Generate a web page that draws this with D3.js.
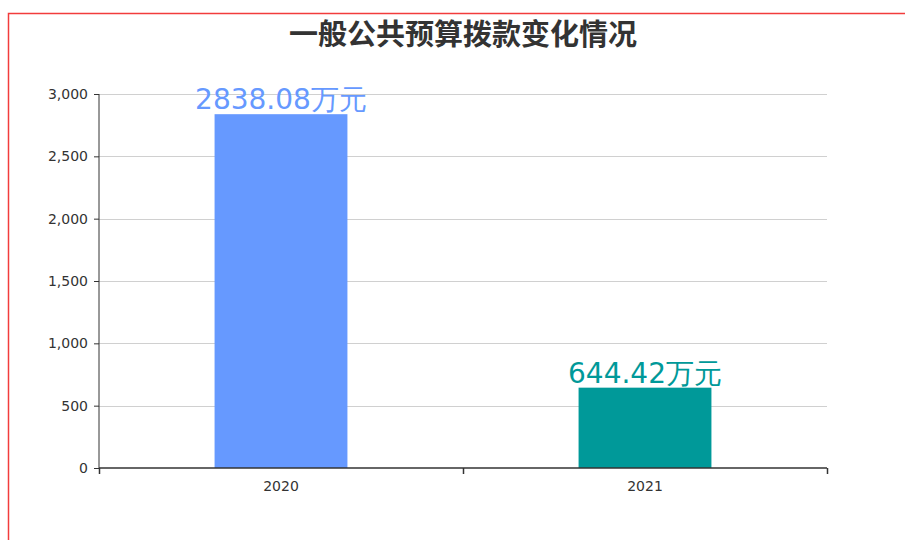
<!DOCTYPE html>
<html><head><meta charset="utf-8">
<script src="https://cdn.jsdelivr.net/npm/d3@7"></script>
<style>html,body{margin:0;padding:0;background:#fff;overflow:hidden}</style>
</head><body>
<svg id="c" width="905" height="540"></svg>
<script>
const title = "一般公共预算拨款变化情况";
const categories = ["2020", "2021"];
const values = [2838.08, 644.42];
const colors = ["#6699FF", "#009999"];
const unit = "万元";
const yTicks = [0, 500, 1000, 1500, 2000, 2500, 3000];

const svg = d3.select("#c");
// frame border
svg.append("path").attr("d","M8.5,540 L8.5,13.5 L905,13.5").attr("fill","none").attr("stroke","#f23c3c").attr("stroke-width",1.5);

const m = {left:99, right:827, top:94, bottom:468};
const x = d3.scaleBand().domain(categories).range([m.left, m.right]).padding(0);
const y = d3.scaleLinear().domain([0,3000]).range([m.bottom, m.top]);

svg.append("text").attr("x",463).attr("y",45).attr("text-anchor","middle")
  .attr("font-family","'Noto Sans CJK SC'").attr("font-weight","bold").attr("font-size",29)
  .attr("fill","#333").text(title);

// grid
svg.append("g").selectAll("line").data(yTicks.filter(d=>d>0)).join("line")
  .attr("x1",m.left).attr("x2",m.right).attr("y1",d=>Math.round(y(d))+0.5).attr("y2",d=>Math.round(y(d))+0.5)
  .attr("stroke","#d0d0d0").attr("stroke-width",1);

// bars
const bw = x.bandwidth()*0.365;
svg.append("g").selectAll("rect").data(categories).join("rect")
  .attr("x",(d)=>x(d)+x.bandwidth()/2-bw/2).attr("width",bw)
  .attr("y",(d,i)=>y(values[i])).attr("height",(d,i)=>y(0)-y(values[i]))
  .attr("fill",(d,i)=>colors[i]);

// labels
svg.append("g").selectAll("text").data(categories).join("text")
  .attr("x",d=>x(d)+x.bandwidth()/2).attr("y",(d,i)=>y(values[i])-5)
  .attr("text-anchor","middle").attr("font-family","'DejaVu Sans'").attr("font-size",28)
  .attr("fill",(d,i)=>colors[i]).text((d,i)=>values[i].toFixed(2)+unit);

// y axis
const ya = svg.append("g").attr("transform",`translate(${m.left},0)`)
  .call(d3.axisLeft(y).tickValues(yTicks).tickSize(5).tickPadding(6).tickFormat(d3.format(",")));
ya.selectAll("text").attr("font-family","'DejaVu Sans'").attr("font-size",14).attr("fill","#333");
ya.selectAll("line").attr("stroke","#333");
ya.select(".domain").attr("d",`M0,${m.top}V${m.bottom}`).attr("stroke","#333");

// x axis
const xa = svg.append("g").attr("transform",`translate(0,${m.bottom})`)
  .call(d3.axisBottom(x).tickSize(0).tickPadding(13));
xa.selectAll("text").attr("font-family","'DejaVu Sans'").attr("font-size",14).attr("fill","#333");
xa.select(".domain").attr("d",`M${m.left},0H${m.right}`).attr("stroke","#333").attr("stroke-width",1.5);
xa.selectAll(".edge").data([m.left, m.left + x.step(), m.right]).join("line").attr("class","edge")
  .attr("x1",d=>d+0.5).attr("x2",d=>d+0.5).attr("y1",0).attr("y2",6).attr("stroke","#333").attr("stroke-width",1.5);
</script>
</body></html>
